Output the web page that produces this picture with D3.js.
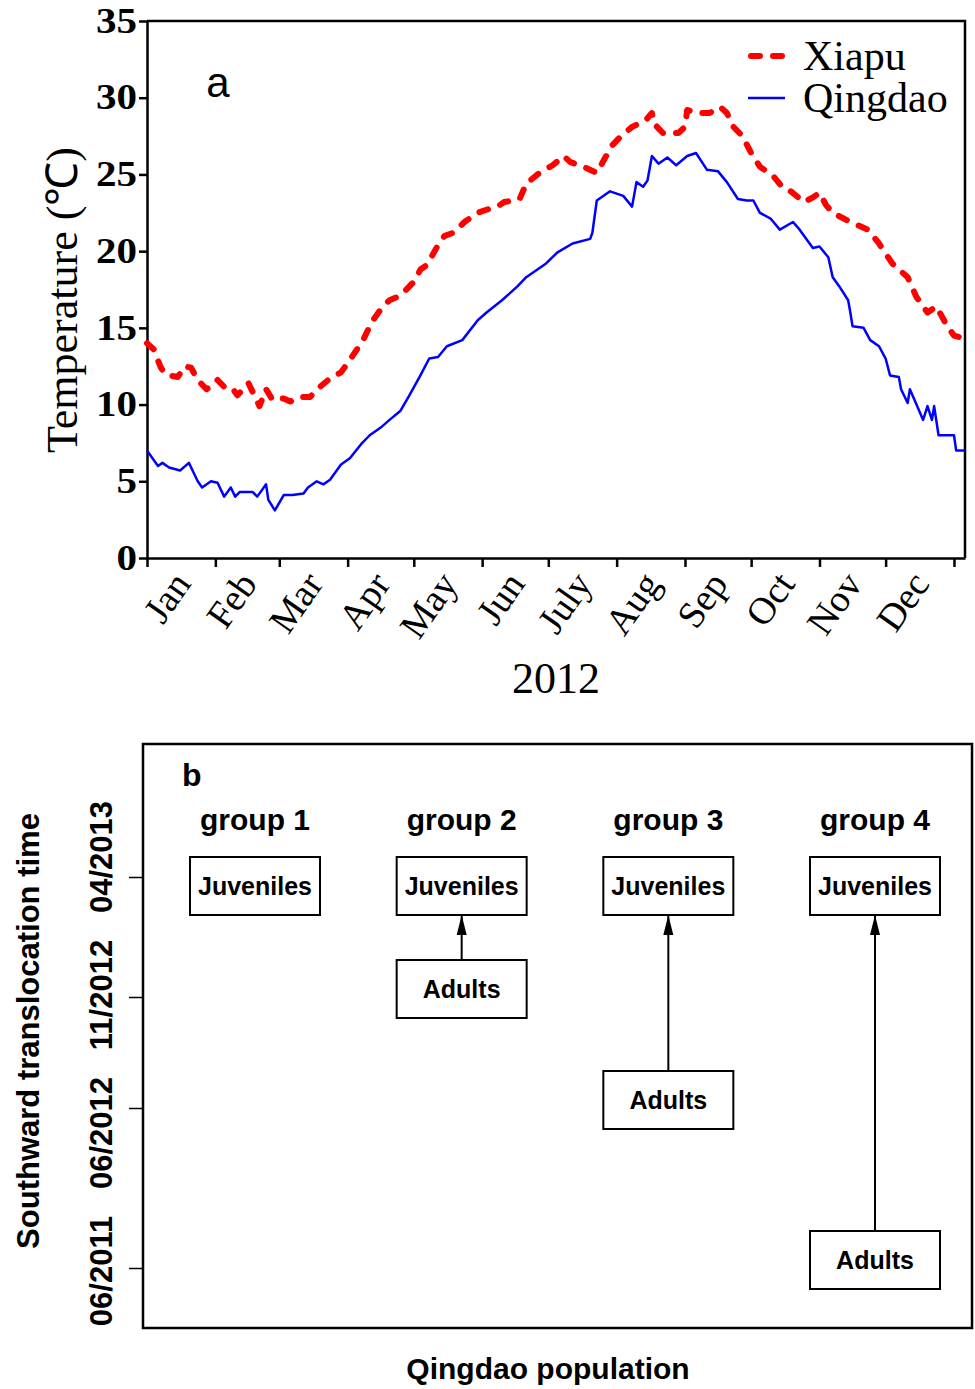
<!DOCTYPE html>
<html>
<head>
<meta charset="utf-8" />
<title>Temperature and southward translocation</title>
<script src="https://d3js.org/d3.v7.min.js"></script>
<style>
  body { margin: 0; background: #fff; }
  svg { display: block; }
</style>
</head>
<body>
<script>
// ---- panel a data (day of year 2012 -> daily temperature)
const months = ["Jan", "Feb", "Mar", "Apr", "May", "Jun", "July", "Aug", "Sep", "Oct", "Nov", "Dec"];
const monthStarts = [0, 31, 60, 91, 121, 152, 182, 213, 244, 274, 305, 335, 366];
const tempTicks = [0, 5, 10, 15, 20, 25, 30, 35];
const seriesNames = ["Xiapu", "Qingdao"];

const xiapuDays = [0,3,6,8,10,14,17,20,23,27,30,32,36,39,41,46,48,51,54,57,62,65,70,74,78,83,88,92,98,102,107,110,115,121,124,127,132,135,139,144,150,154,159,162,166,169,172,178,184,189,192,198,204,209,211,215,220,226,229,230,234,241,244,245,250,255,260,263,266,270,274,278,284,288,292,298,302,305,308,311,319,327,332,338,345,349,354,358,363,366,371];
const xiapuTemp = [14.0,13.6,12.5,12.0,11.9,11.8,12.5,12.4,11.6,11.0,11.3,11.6,11.0,11.0,10.6,11.4,10.8,9.9,11.0,10.3,10.4,10.2,10.5,10.5,11.1,11.7,12.1,12.9,14.2,15.4,16.4,16.8,17.1,18.0,18.8,19.1,20.4,21.0,21.2,21.9,22.5,22.7,22.9,23.2,23.3,23.4,24.4,25.1,25.6,26.2,25.8,25.5,25.1,26.4,26.9,27.5,28.1,28.5,29.0,28.3,27.7,27.7,28.1,29.2,29.0,29.0,29.4,29.0,28.1,27.5,26.4,25.5,24.9,24.2,23.9,23.2,23.5,23.8,23.0,22.5,21.9,21.4,20.5,19.2,18.3,17.0,16.0,16.4,15.1,14.5,14.3];

const qingdaoDays = [0,2,5,7,10,15,19,21,23,25,29,32,35,38,40,42,48,50,54,55,58,62,66,71,73,77,80,83,88,92,97,101,106,110,115,119,124,128,132,136,143,150,154,161,168,172,181,186,193,201,202,204,210,216,220,222,225,227,229,232,236,240,245,249,254,259,263,268,272,275,278,283,287,293,296,302,305,309,311,314,318,319,320,325,328,332,335,337,341,342,345,346,349,352,354,356,357,359,366,367,371];
const qingdaoTemp = [7.0,6.6,6.0,6.2,5.9,5.7,6.2,5.6,5.0,4.6,5.0,4.9,4.0,4.6,4.0,4.3,4.3,4.0,4.8,3.8,3.1,4.1,4.1,4.2,4.6,5.0,4.8,5.1,6.1,6.5,7.4,8.0,8.5,9.0,9.6,10.6,11.9,13.0,13.1,13.8,14.2,15.5,16.0,16.8,17.7,18.3,19.2,19.9,20.5,20.8,21.2,23.3,23.9,23.6,22.9,24.5,24.2,24.6,26.2,25.7,26.1,25.6,26.2,26.4,25.3,25.2,24.5,23.4,23.3,23.3,22.5,22.1,21.4,21.9,21.4,20.2,20.3,19.6,18.3,17.7,16.8,16.0,15.1,15.0,14.2,13.8,13.0,11.9,11.8,11.0,10.1,11.0,10.0,9.0,9.9,9.0,9.9,8.0,8.0,7.0,7.0];

// ---- panel b data
const groups = ["group 1", "group 2", "group 3", "group 4"];
const timeLabels = ["06/2011", "06/2012", "11/2012", "04/2013"];
const juvenileTimes = ["04/2013", "04/2013", "04/2013", "04/2013"];
const adultTimes = [null, "11/2012", "06/2012", "06/2011"];

const serif = "'Liberation Serif', 'Times New Roman', serif";
const sans = "'Liberation Sans', Arial, sans-serif";

const svg = d3.select("body").append("svg")
  .attr("width", 975)
  .attr("height", 1389)
  .style("background", "#fff");

// ================= panel a =================
const x = d3.scaleLinear().domain([0, 371]).range([147, 965]);
const y = d3.scaleLinear().domain([0, 35]).range([558, 21]);
const gA = svg.append("g");

// top and right frame
gA.append("path")
  .attr("d", `M${x(0)},${y(35)}H${x(371)}V${y(0)}`)
  .attr("fill", "none")
  .attr("stroke", "#000")
  .attr("stroke-width", 2.5);

const xAx = gA.append("g")
  .attr("transform", `translate(0,${y(0)})`)
  .call(d3.axisBottom(x).tickValues(monthStarts).tickFormat("").tickSize(9).tickSizeOuter(0));
xAx.select(".domain").attr("stroke-width", 2.5);
xAx.selectAll(".tick line").attr("stroke-width", 2.5);

const yAx = gA.append("g")
  .attr("transform", `translate(${x(0)},0)`)
  .call(d3.axisLeft(y).tickValues(tempTicks).tickSize(8).tickSizeOuter(0).tickPadding(2));
yAx.select(".domain").attr("stroke-width", 2.5);
yAx.selectAll(".tick line").attr("stroke-width", 2.5);
yAx.selectAll(".tick text")
  .attr("font-family", serif)
  .attr("font-size", 35)
  .attr("font-weight", "bold")
  .attr("fill", "#000")
  .attr("lengthAdjust", "spacingAndGlyphs")
  .attr("textLength", d => String(d).length * 20.5);

// month labels
gA.selectAll(".month")
  .data(months)
  .join("text")
  .attr("class", "month")
  .attr("transform", (d, i) => `translate(${x((monthStarts[i] + monthStarts[i + 1]) / 2) + 11},584) rotate(-55)`)
  .attr("text-anchor", "end")
  .attr("font-family", serif)
  .attr("font-size", 38)
  .text(d => d);

gA.append("text")
  .attr("x", 556).attr("y", 693)
  .attr("text-anchor", "middle")
  .attr("font-family", serif)
  .attr("font-size", 44)
  .text("2012");

gA.append("text")
  .attr("transform", "translate(77,300) rotate(-90)")
  .attr("text-anchor", "middle")
  .attr("font-family", serif)
  .attr("font-size", 44)
  .text("Temperature (℃)");

gA.append("text")
  .attr("x", 218).attr("y", 97)
  .attr("text-anchor", "middle")
  .attr("font-family", sans)
  .attr("font-size", 42)
  .text("a");

const line = d3.line().x(d => x(d[0])).y(d => y(d[1]));
const styles = {
  Xiapu: { color: "#ff0000", width: 6, dash: "9,13" },
  Qingdao: { color: "#0000ff", width: 2.5, dash: null }
};

gA.append("path")
  .datum(d3.zip(qingdaoDays, qingdaoTemp))
  .attr("d", line)
  .attr("fill", "none")
  .attr("stroke", styles.Qingdao.color)
  .attr("stroke-width", styles.Qingdao.width)
  .attr("stroke-linejoin", "round");

gA.append("path")
  .datum(d3.zip(xiapuDays, xiapuTemp))
  .attr("d", line)
  .attr("fill", "none")
  .attr("stroke", styles.Xiapu.color)
  .attr("stroke-width", styles.Xiapu.width)
  .attr("stroke-dasharray", styles.Xiapu.dash)
  .attr("stroke-linecap", "round")
  .attr("stroke-linejoin", "round");

// legend
const leg = gA.selectAll(".leg")
  .data(seriesNames)
  .join("g")
  .attr("class", "leg")
  .attr("transform", (d, i) => `translate(748,${56 + i * 42})`);
leg.append("line")
  .attr("x1", d => styles[d].dash ? 3 : 0)
  .attr("x2", 37)
  .attr("stroke", d => styles[d].color)
  .attr("stroke-width", d => styles[d].width)
  .attr("stroke-dasharray", d => styles[d].dash)
  .attr("stroke-linecap", d => styles[d].dash ? "round" : "butt");
leg.append("text")
  .attr("x", 55).attr("y", 14)
  .attr("font-family", serif)
  .attr("font-size", 42)
  .text(d => d);

// ================= panel b =================
const parseMY = d3.timeParse("%m/%Y");
const yB = d3.scaleTime()
  .domain(timeLabels.map(parseMY))
  .range([1268, 1108, 997, 877]);
const yLab = d3.scalePoint().domain(timeLabels).range([1271, 857]);
const xB = d3.scalePoint().domain(groups).range([255, 875]);
const boxW = 130, boxH = 58, juvShift = 9, adultShift = -8;

const gB = svg.append("g");

gB.append("rect")
  .attr("x", 143).attr("y", 744)
  .attr("width", 829).attr("height", 584)
  .attr("fill", "none")
  .attr("stroke", "#000")
  .attr("stroke-width", 2.5);

const yBAx = gB.append("g")
  .attr("transform", "translate(143,0)")
  .call(d3.axisLeft(yB).tickValues(timeLabels.map(parseMY)).tickFormat("").tickSize(14).tickSizeOuter(0));
yBAx.select(".domain").remove();
yBAx.selectAll(".tick line").attr("stroke-width", 1.5);

gB.selectAll(".tlab")
  .data(timeLabels)
  .join("text")
  .attr("class", "tlab")
  .attr("transform", d => `translate(112,${yLab(d)}) rotate(-90)`)
  .attr("text-anchor", "middle")
  .attr("font-family", sans)
  .attr("font-weight", "bold")
  .attr("font-size", 31)
  .text(d => d);

gB.append("text")
  .attr("transform", "translate(39,1031) rotate(-90)")
  .attr("text-anchor", "middle")
  .attr("font-family", sans)
  .attr("font-weight", "bold")
  .attr("font-size", 31)
  .text("Southward translocation time");

gB.append("text")
  .attr("x", 548).attr("y", 1379)
  .attr("text-anchor", "middle")
  .attr("font-family", sans)
  .attr("font-weight", "bold")
  .attr("font-size", 30)
  .text("Qingdao population");

gB.append("text")
  .attr("x", 182).attr("y", 786)
  .attr("font-family", sans)
  .attr("font-weight", "bold")
  .attr("font-size", 32)
  .text("b");

gB.selectAll(".glab")
  .data(groups)
  .join("text")
  .attr("class", "glab")
  .attr("x", d => xB(d))
  .attr("y", 830)
  .attr("text-anchor", "middle")
  .attr("font-family", sans)
  .attr("font-weight", "bold")
  .attr("font-size", 30)
  .text(d => d);

svg.append("defs").append("marker")
  .attr("id", "head")
  .attr("markerUnits", "userSpaceOnUse")
  .attr("markerWidth", 20).attr("markerHeight", 12)
  .attr("viewBox", "0 0 20 12")
  .attr("refX", 20).attr("refY", 6)
  .attr("orient", "auto")
  .append("path")
  .attr("d", "M0,1L20,6L0,11Z")
  .attr("fill", "#000");

const boxes = [];
groups.forEach((g, i) => {
  boxes.push({ g, label: "Juveniles", cy: yB(parseMY(juvenileTimes[i])) + juvShift });
  if (adultTimes[i]) boxes.push({ g, label: "Adults", cy: yB(parseMY(adultTimes[i])) + adultShift });
});

groups.forEach((g, i) => {
  if (!adultTimes[i]) return;
  gB.append("line")
    .attr("x1", xB(g)).attr("x2", xB(g))
    .attr("y1", yB(parseMY(adultTimes[i])) + adultShift - boxH / 2)
    .attr("y2", yB(parseMY(juvenileTimes[i])) + juvShift + boxH / 2)
    .attr("stroke", "#000")
    .attr("stroke-width", 2)
    .attr("marker-end", "url(#head)");
});

const bx = gB.selectAll(".box")
  .data(boxes)
  .join("g")
  .attr("class", "box")
  .attr("transform", d => `translate(${xB(d.g)},${d.cy})`);
bx.append("rect")
  .attr("x", -boxW / 2).attr("y", -boxH / 2)
  .attr("width", boxW).attr("height", boxH)
  .attr("fill", "#fff")
  .attr("stroke", "#000")
  .attr("stroke-width", 2);
bx.append("text")
  .attr("y", 9)
  .attr("text-anchor", "middle")
  .attr("font-family", sans)
  .attr("font-weight", "bold")
  .attr("font-size", 25)
  .text(d => d.label);
</script>
</body>
</html>
